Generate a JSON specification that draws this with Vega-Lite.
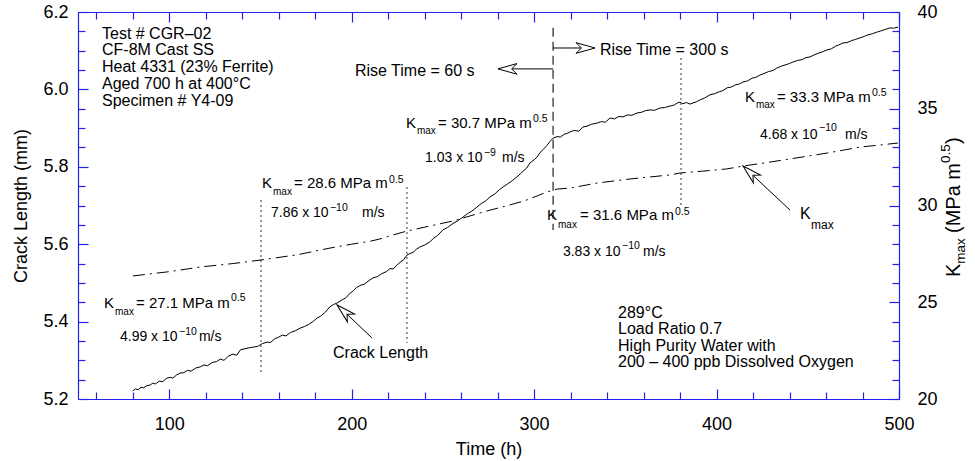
{
"$schema": "https://vega.github.io/schema/vega-lite/v6.json",
"width": 821, "height": 387,
"autosize": "none",
"padding": {"left": 78, "top": 12, "right": 76, "bottom": 62},
"background": "white",
"config": {
 "view": {"stroke": null},
 "font": "Liberation Sans",
 "axis": {"grid": false, "domainColor": "#2020f0", "domainWidth": 1.2, "tickColor": "#2020f0", "tickWidth": 1.2, "labelFont": "Liberation Sans", "labelFontSize": 18, "labelColor": "#000", "titleFont": "Liberation Sans", "titleFontSize": 18, "titleFontWeight": "normal", "titleColor": "#000", "labelOverlap": false, "labelFlush": false},
 "text": {"font": "Liberation Sans", "color": "#000"}
},
"datasets": {
 "crack": [
  {"t":80.0,"v":5.221},{"t":81.5,"v":5.226},{"t":83.0,"v":5.224},{"t":84.5,"v":5.230},{"t":86.0,"v":5.229},{"t":87.5,"v":5.234},{"t":89.5,"v":5.236},{"t":91.0,"v":5.241},{"t":92.5,"v":5.239},{"t":94.5,"v":5.246},{"t":96.5,"v":5.245},{"t":98.7,"v":5.254},{"t":100.5,"v":5.256},{"t":102.0,"v":5.254},{"t":104.0,"v":5.262},{"t":106.0,"v":5.267},{"t":108.0,"v":5.268},{"t":110.0,"v":5.274},{"t":112.0,"v":5.272},{"t":114.5,"v":5.280},{"t":117.0,"v":5.283},{"t":119.0,"v":5.288},{"t":121.0,"v":5.286},{"t":123.5,"v":5.294},{"t":126.0,"v":5.297},{"t":128.0,"v":5.303},{"t":130.0,"v":5.300},{"t":132.5,"v":5.311},{"t":135.0,"v":5.316},{"t":137.0,"v":5.313},{"t":139.0,"v":5.327},{"t":141.5,"v":5.330},{"t":143.5,"v":5.332},{"t":146.0,"v":5.334},{"t":148.5,"v":5.336},{"t":151.0,"v":5.343},{"t":153.6,"v":5.347},{"t":155.5,"v":5.346},{"t":158.0,"v":5.356},{"t":160.0,"v":5.360},{"t":162.0,"v":5.365},{"t":164.0,"v":5.363},{"t":166.5,"v":5.372},{"t":169.0,"v":5.376},{"t":171.7,"v":5.383},{"t":174.0,"v":5.387},{"t":176.5,"v":5.393},{"t":179.0,"v":5.401},{"t":181.0,"v":5.409},{"t":183.0,"v":5.414},{"t":185.5,"v":5.424},{"t":188.0,"v":5.438},{"t":190.0,"v":5.444},{"t":192.0,"v":5.448},{"t":194.7,"v":5.456},{"t":197.0,"v":5.462},{"t":199.0,"v":5.473},{"t":201.0,"v":5.480},{"t":202.9,"v":5.489},{"t":205.0,"v":5.494},{"t":207.0,"v":5.497},{"t":209.5,"v":5.506},{"t":211.7,"v":5.513},{"t":214.0,"v":5.516},{"t":216.5,"v":5.524},{"t":219.0,"v":5.529},{"t":221.0,"v":5.537},{"t":222.8,"v":5.536},{"t":224.8,"v":5.546},{"t":227.0,"v":5.555},{"t":228.5,"v":5.560},{"t":230.3,"v":5.572},{"t":232.0,"v":5.576},{"t":234.0,"v":5.580},{"t":235.5,"v":5.587},{"t":237.5,"v":5.593},{"t":240.0,"v":5.598},{"t":242.9,"v":5.606},{"t":245.0,"v":5.616},{"t":247.0,"v":5.622},{"t":250.0,"v":5.637},{"t":252.5,"v":5.643},{"t":255.0,"v":5.652},{"t":258.0,"v":5.660},{"t":261.0,"v":5.670},{"t":263.5,"v":5.679},{"t":266.0,"v":5.686},{"t":268.7,"v":5.696},{"t":271.0,"v":5.705},{"t":273.5,"v":5.712},{"t":275.8,"v":5.722},{"t":278.5,"v":5.730},{"t":281.0,"v":5.741},{"t":283.0,"v":5.748},{"t":285.5,"v":5.756},{"t":288.0,"v":5.764},{"t":290.6,"v":5.774},{"t":292.5,"v":5.782},{"t":294.5,"v":5.791},{"t":296.0,"v":5.797},{"t":297.7,"v":5.810},{"t":300.0,"v":5.818},{"t":301.6,"v":5.825},{"t":303.2,"v":5.836},{"t":305.0,"v":5.845},{"t":307.0,"v":5.855},{"t":308.8,"v":5.866},{"t":310.4,"v":5.874},{"t":312.5,"v":5.878},{"t":314.5,"v":5.877},{"t":316.5,"v":5.884},{"t":318.0,"v":5.886},{"t":319.7,"v":5.890},{"t":322.0,"v":5.894},{"t":324.5,"v":5.892},{"t":326.8,"v":5.903},{"t":329.0,"v":5.905},{"t":331.5,"v":5.910},{"t":334.5,"v":5.913},{"t":337.0,"v":5.917},{"t":339.0,"v":5.915},{"t":341.6,"v":5.926},{"t":344.0,"v":5.924},{"t":346.5,"v":5.930},{"t":348.7,"v":5.929},{"t":351.0,"v":5.934},{"t":353.5,"v":5.933},{"t":356.4,"v":5.939},{"t":359.0,"v":5.941},{"t":361.0,"v":5.945},{"t":363.5,"v":5.947},{"t":366.0,"v":5.946},{"t":369.0,"v":5.952},{"t":371.5,"v":5.953},{"t":374.5,"v":5.957},{"t":377.0,"v":5.960},{"t":378.5,"v":5.965},{"t":380.0,"v":5.967},{"t":381.5,"v":5.963},{"t":383.5,"v":5.966},{"t":385.5,"v":5.962},{"t":387.1,"v":5.965},{"t":389.0,"v":5.968},{"t":391.0,"v":5.973},{"t":393.5,"v":5.978},{"t":396.4,"v":5.986},{"t":399.0,"v":5.989},{"t":401.5,"v":5.994},{"t":403.5,"v":5.997},{"t":405.7,"v":6.004},{"t":408.0,"v":6.006},{"t":410.5,"v":6.012},{"t":412.5,"v":6.014},{"t":414.5,"v":6.019},{"t":417.0,"v":6.022},{"t":419.5,"v":6.029},{"t":421.5,"v":6.031},{"t":423.8,"v":6.037},{"t":426.0,"v":6.041},{"t":428.5,"v":6.046},{"t":431.0,"v":6.049},{"t":433.0,"v":6.055},{"t":435.5,"v":6.060},{"t":437.5,"v":6.063},{"t":440.0,"v":6.067},{"t":442.0,"v":6.071},{"t":444.5,"v":6.075},{"t":447.0,"v":6.077},{"t":449.0,"v":6.082},{"t":451.2,"v":6.084},{"t":453.5,"v":6.089},{"t":456.0,"v":6.094},{"t":458.0,"v":6.097},{"t":460.5,"v":6.102},{"t":463.0,"v":6.105},{"t":465.0,"v":6.111},{"t":467.0,"v":6.115},{"t":469.3,"v":6.120},{"t":471.5,"v":6.121},{"t":474.0,"v":6.126},{"t":476.0,"v":6.129},{"t":478.6,"v":6.133},{"t":481.0,"v":6.137},{"t":483.0,"v":6.141},{"t":485.5,"v":6.144},{"t":487.9,"v":6.148},{"t":490.0,"v":6.151},{"t":492.5,"v":6.155},{"t":495.0,"v":6.159},{"t":497.0,"v":6.158},{"t":499.5,"v":6.161}
 ],
 "kmax": [
  {"t":80.1,"k":26.36},{"t":100,"k":26.58},{"t":116.9,"k":26.82},{"t":135,"k":27.0},{"t":149.8,"k":27.18},{"t":170,"k":27.45},{"t":188.1,"k":27.8},{"t":200,"k":28.0},{"t":210,"k":28.15},{"t":215.5,"k":28.27},{"t":222.7,"k":28.48},{"t":230.3,"k":28.68},{"t":242.9,"k":28.94},{"t":255.5,"k":29.2},{"t":264.9,"k":29.46},{"t":274.2,"k":29.72},{"t":286.8,"k":30.03},{"t":295,"k":30.25},{"t":301.6,"k":30.49},{"t":307,"k":30.7},{"t":312.6,"k":30.85},{"t":319.7,"k":30.9},{"t":334.5,"k":31.16},{"t":352.6,"k":31.37},{"t":374.5,"k":31.58},{"t":380.0,"k":31.68},{"t":393,"k":31.78},{"t":405.7,"k":31.89},{"t":414.5,"k":32.04},{"t":425,"k":32.18},{"t":436.4,"k":32.35},{"t":448,"k":32.52},{"t":460.5,"k":32.71},{"t":470,"k":32.87},{"t":478.6,"k":33.02},{"t":490,"k":33.13},{"t":499.5,"k":33.23}
 ],
 "vdot": [
  {"t":150.3,"v":5.714,"v2":5.270},{"t":230.3,"v":5.748,"v2":5.345},{"t":380.5,"v":6.081,"v2":5.694}
 ],
 "vdash": [{"t":310.4,"v":6.159,"v2":5.637}],
 "shafts": [
  {"t":310.4,"v":6.053,"t2":285.0,"v2":6.053},
  {"t":310.4,"v":6.107,"t2":330.0,"v2":6.107},
  {"t":211.1,"v":5.358,"t2":192.0,"v2":5.443},
  {"t":440.3,"v":5.688,"t2":414.5,"v2":5.802}
 ],
 "headL": [{"t":280.2,"v":6.053}],
 "headR": [{"t":333.4,"v":6.107}],
 "headD": [{"t":192.0,"v":5.443},{"t":414.5,"v":5.802}],
 "txtBig": [
  {"t":63.15,"v":6.1444,"s":"Test # CGR–02"},
  {"t":63.15,"v":6.1008,"s":"CF-8M Cast SS"},
  {"t":63.15,"v":6.0571,"s":"Heat 4331 (23% Ferrite)"},
  {"t":63.15,"v":6.0134,"s":"Aged 700 h at 400°C"},
  {"t":63.15,"v":5.9698,"s":"Specimen # Y4-09"},
  {"t":346.0,"v":5.4235,"s":"289°C"},
  {"t":346.0,"v":5.3809,"s":"Load Ratio 0.7"},
  {"t":346.0,"v":5.3382,"s":"High Purity Water with"},
  {"t":346.0,"v":5.2956,"s":"200 – 400 ppb Dissolved Oxygen"},
  {"t":201.8,"v":6.048,"s":"Rise Time = 60 s"},
  {"t":336.1,"v":6.102,"s":"Rise Time = 300 s"},
  {"t":189.8,"v":5.319,"s":"Crack Length"},
  {"t":445.7,"v":5.678,"s":"K"}
 ],
 "txtMain": [
  {"t":64.3,"v":5.448,"s":"K"},{"t":150.9,"v":5.758,"s":"K"},{"t":229.8,"v":5.913,"s":"K"},{"t":307.1,"v":5.675,"s":"K"},{"t":415.6,"v":5.980,"s":"K"},
  {"t":81.8,"v":5.448,"s":"= 27.1 MPa m"},{"t":168.4,"v":5.758,"s":"= 28.6 MPa m"},{"t":247.3,"v":5.913,"s":"= 30.7 MPa m"},{"t":325.2,"v":5.675,"s":"= 31.6 MPa m"},{"t":433.1,"v":5.980,"s":"= 33.3 MPa m"}
 ],
 "txtRate": [
  {"t":73.0,"v":5.360,"s":"4.99 x 10"},{"t":155.8,"v":5.681,"s":"7.86 x 10"},{"t":240.2,"v":5.823,"s":"1.03 x 10"},{"t":315.8,"v":5.580,"s":"3.83 x 10"},{"t":423.8,"v":5.882,"s":"4.68 x 10"},
  {"t":116.3,"v":5.360,"s":"m/s"},{"t":205.7,"v":5.681,"s":"m/s"},{"t":282.4,"v":5.823,"s":"m/s"},{"t":359.7,"v":5.580,"s":"m/s"},{"t":470.4,"v":5.882,"s":"m/s"}
 ],
 "txtSub": [
  {"t":70.3,"v":5.425,"s":"max"},{"t":156.9,"v":5.735,"s":"max"},{"t":235.8,"v":5.893,"s":"max"},{"t":313.1,"v":5.650,"s":"max"},{"t":421.6,"v":5.960,"s":"max"}
 ],
 "txtSup": [
  {"t":133.9,"v":5.461,"s":"0.5"},{"t":220.5,"v":5.766,"s":"0.5"},{"t":299.4,"v":5.924,"s":"0.5"},{"t":377.2,"v":5.683,"s":"0.5"},{"t":485.2,"v":5.991,"s":"0.5"},
  {"t":105.4,"v":5.373,"s":"−10"},{"t":188.1,"v":5.694,"s":"−10"},{"t":272.5,"v":5.836,"s":"−9"},{"t":348.2,"v":5.595,"s":"−10"},{"t":456.2,"v":5.900,"s":"−10"}
 ],
 "txtSubBig": [{"t":451.8,"v":5.650,"s":"max"}],
 "ttlMain": [{"t":530.2,"v":5.5152,"s":"K"},{"t":530.2,"v":5.6289,"s":"(MPa m"},{"t":530.2,"v":5.8589,"s":")"}],
 "ttlSub": [{"t":534.0,"v":5.5496,"s":"max"}],
 "ttlSup": [{"t":525.8,"v":5.8098,"s":"0.5"}]
},
"layer": [
  {"data": {"name": "crack"}, "mark": {"type": "line", "color": "#000", "strokeWidth": 1},
   "encoding": {
    "x": {"field": "t", "type": "quantitative", "scale": {"domain": [50, 500], "nice": false, "zero": false},
      "axis": {"orient": "bottom", "title": "Time (h)", "values": [60,80,100,120,140,160,180,200,220,240,260,280,300,320,340,360,380,400,420,440,460,480,500],
        "labelExpr": "datum.value % 100 === 0 ? datum.label : ''",
        "tickSize": {"condition": {"test": "datum.value % 100 === 0", "value": -10}, "value": -7},
        "labelPadding": 26, "titlePadding": 4}},
    "y": {"field": "v", "type": "quantitative", "scale": {"domain": [5.2, 6.2], "nice": false, "zero": false},
      "axis": {"orient": "left", "title": "Crack Length (mm)", "values": [5.2,5.25,5.3,5.35,5.4,5.45,5.5,5.55,5.6,5.65,5.7,5.75,5.8,5.85,5.9,5.95,6.0,6.05,6.1,6.15,6.2],
        "labelExpr": "abs(datum.value*5 - round(datum.value*5)) < 0.001 ? format(datum.value, '.1f') : ''",
        "tickSize": {"condition": {"test": "abs(datum.value*5 - round(datum.value*5)) < 0.001", "value": -10}, "value": -7},
        "labelPadding": 20, "titlePadding": 12}}
   }},
  {"data": {"name": "vdot"}, "mark": {"type": "rule", "color": "#555", "strokeWidth": 1.2, "strokeDash": [2, 3]},
   "encoding": {
    "x": {"field": "t", "type": "quantitative", "scale": {"domain": [50, 500], "nice": false, "zero": false}, "axis": null},
    "y": {"field": "v", "type": "quantitative", "scale": {"domain": [5.2, 6.2], "nice": false, "zero": false}, "axis": null},
    "y2": {"field": "v2"}}},
  {"data": {"name": "vdash"}, "mark": {"type": "rule", "color": "#222", "strokeWidth": 1.2, "strokeDash": [9, 5]},
   "encoding": {
    "x": {"field": "t", "type": "quantitative", "scale": {"domain": [50, 500], "nice": false, "zero": false}, "axis": null},
    "y": {"field": "v", "type": "quantitative", "scale": {"domain": [5.2, 6.2], "nice": false, "zero": false}, "axis": null},
    "y2": {"field": "v2"}}},
  {"data": {"name": "shafts"}, "mark": {"type": "rule", "color": "#000", "strokeWidth": 1},
   "encoding": {
    "x": {"field": "t", "type": "quantitative", "scale": {"domain": [50, 500], "nice": false, "zero": false}, "axis": null},
    "y": {"field": "v", "type": "quantitative", "scale": {"domain": [5.2, 6.2], "nice": false, "zero": false}, "axis": null},
    "x2": {"field": "t2"}, "y2": {"field": "v2"}}},
  {"data": {"name": "headL"}, "mark": {"type": "point", "shape": "M0,0L1,-0.28L0.72,0L1,0.28Z", "size": 1444, "filled": true, "fill": "#fff", "stroke": "#000", "strokeWidth": 1, "opacity": 1, "angle": 0},
   "encoding": {
    "x": {"field": "t", "type": "quantitative", "scale": {"domain": [50, 500], "nice": false, "zero": false}, "axis": null},
    "y": {"field": "v", "type": "quantitative", "scale": {"domain": [5.2, 6.2], "nice": false, "zero": false}, "axis": null}}},
  {"data": {"name": "headR"}, "mark": {"type": "point", "shape": "M0,0L1,-0.28L0.72,0L1,0.28Z", "size": 1444, "filled": true, "fill": "#fff", "stroke": "#000", "strokeWidth": 1, "opacity": 1, "angle": 180},
   "encoding": {
    "x": {"field": "t", "type": "quantitative", "scale": {"domain": [50, 500], "nice": false, "zero": false}, "axis": null},
    "y": {"field": "v", "type": "quantitative", "scale": {"domain": [5.2, 6.2], "nice": false, "zero": false}, "axis": null}}},
  {"data": {"name": "headD"}, "mark": {"type": "point", "shape": "M0,0L1,-0.28L0.72,0L1,0.28Z", "size": 1444, "filled": true, "fill": "#fff", "stroke": "#000", "strokeWidth": 1, "opacity": 1, "angle": 43},
   "encoding": {
    "x": {"field": "t", "type": "quantitative", "scale": {"domain": [50, 500], "nice": false, "zero": false}, "axis": null},
    "y": {"field": "v", "type": "quantitative", "scale": {"domain": [5.2, 6.2], "nice": false, "zero": false}, "axis": null}}},
  {"data": {"name": "txtBig"}, "mark": {"type": "text", "align": "left", "baseline": "middle", "fontSize": 16},
   "encoding": {
    "x": {"field": "t", "type": "quantitative", "scale": {"domain": [50, 500], "nice": false, "zero": false}, "axis": null},
    "y": {"field": "v", "type": "quantitative", "scale": {"domain": [5.2, 6.2], "nice": false, "zero": false}, "axis": null},
    "text": {"field": "s"}}},
  {"data": {"name": "txtMain"}, "mark": {"type": "text", "align": "left", "baseline": "middle", "fontSize": 15},
   "encoding": {
    "x": {"field": "t", "type": "quantitative", "scale": {"domain": [50, 500], "nice": false, "zero": false}, "axis": null},
    "y": {"field": "v", "type": "quantitative", "scale": {"domain": [5.2, 6.2], "nice": false, "zero": false}, "axis": null},
    "text": {"field": "s"}}},
  {"data": {"name": "txtRate"}, "mark": {"type": "text", "align": "left", "baseline": "middle", "fontSize": 14},
   "encoding": {
    "x": {"field": "t", "type": "quantitative", "scale": {"domain": [50, 500], "nice": false, "zero": false}, "axis": null},
    "y": {"field": "v", "type": "quantitative", "scale": {"domain": [5.2, 6.2], "nice": false, "zero": false}, "axis": null},
    "text": {"field": "s"}}},
  {"data": {"name": "txtSub"}, "mark": {"type": "text", "align": "left", "baseline": "middle", "fontSize": 10},
   "encoding": {
    "x": {"field": "t", "type": "quantitative", "scale": {"domain": [50, 500], "nice": false, "zero": false}, "axis": null},
    "y": {"field": "v", "type": "quantitative", "scale": {"domain": [5.2, 6.2], "nice": false, "zero": false}, "axis": null},
    "text": {"field": "s"}}},
  {"data": {"name": "txtSup"}, "mark": {"type": "text", "align": "left", "baseline": "middle", "fontSize": 10.5},
   "encoding": {
    "x": {"field": "t", "type": "quantitative", "scale": {"domain": [50, 500], "nice": false, "zero": false}, "axis": null},
    "y": {"field": "v", "type": "quantitative", "scale": {"domain": [5.2, 6.2], "nice": false, "zero": false}, "axis": null},
    "text": {"field": "s"}}},
  {"data": {"name": "txtSubBig"}, "mark": {"type": "text", "align": "left", "baseline": "middle", "fontSize": 12},
   "encoding": {
    "x": {"field": "t", "type": "quantitative", "scale": {"domain": [50, 500], "nice": false, "zero": false}, "axis": null},
    "y": {"field": "v", "type": "quantitative", "scale": {"domain": [5.2, 6.2], "nice": false, "zero": false}, "axis": null},
    "text": {"field": "s"}}},
  {"data": {"name": "ttlMain"}, "mark": {"type": "text", "align": "left", "baseline": "middle", "fontSize": 20, "angle": 270},
   "encoding": {
    "x": {"field": "t", "type": "quantitative", "scale": {"domain": [50, 500], "nice": false, "zero": false}, "axis": null},
    "y": {"field": "v", "type": "quantitative", "scale": {"domain": [5.2, 6.2], "nice": false, "zero": false}, "axis": null},
    "text": {"field": "s"}}},
  {"data": {"name": "ttlSub"}, "mark": {"type": "text", "align": "left", "baseline": "middle", "fontSize": 13.5, "angle": 270},
   "encoding": {
    "x": {"field": "t", "type": "quantitative", "scale": {"domain": [50, 500], "nice": false, "zero": false}, "axis": null},
    "y": {"field": "v", "type": "quantitative", "scale": {"domain": [5.2, 6.2], "nice": false, "zero": false}, "axis": null},
    "text": {"field": "s"}}},
  {"data": {"name": "ttlSup"}, "mark": {"type": "text", "align": "left", "baseline": "middle", "fontSize": 13.5, "angle": 270},
   "encoding": {
    "x": {"field": "t", "type": "quantitative", "scale": {"domain": [50, 500], "nice": false, "zero": false}, "axis": null},
    "y": {"field": "v", "type": "quantitative", "scale": {"domain": [5.2, 6.2], "nice": false, "zero": false}, "axis": null},
    "text": {"field": "s"}}},
 {"data": {"name": "kmax"}, "mark": {"type": "line", "color": "#000", "strokeWidth": 1, "strokeDash": [12, 5, 2, 5]},
  "encoding": {
   "x": {"field": "t", "type": "quantitative", "scale": {"domain": [50, 500], "nice": false, "zero": false},
     "axis": {"orient": "top", "title": null, "labels": false, "values": [60,80,100,120,140,160,180,200,220,240,260,280,300,320,340,360,380,400,420,440,460,480,500],
       "tickSize": {"condition": {"test": "datum.value % 100 === 0", "value": -10}, "value": -7}}},
   "y": {"field": "k", "type": "quantitative", "scale": {"domain": [20, 40], "nice": false, "zero": false},
     "axis": {"orient": "right", "title": null, "values": [20,21,22,23,24,25,26,27,28,29,30,31,32,33,34,35,36,37,38,39,40],
       "labelExpr": "datum.value % 5 === 0 ? datum.label : ''",
       "tickSize": {"condition": {"test": "datum.value % 5 === 0", "value": -10}, "value": -7},
       "labelPadding": 28}}
  }}
],
"resolve": {"scale": {"y": "independent"}, "axis": {"x": "independent", "y": "independent"}}
}
